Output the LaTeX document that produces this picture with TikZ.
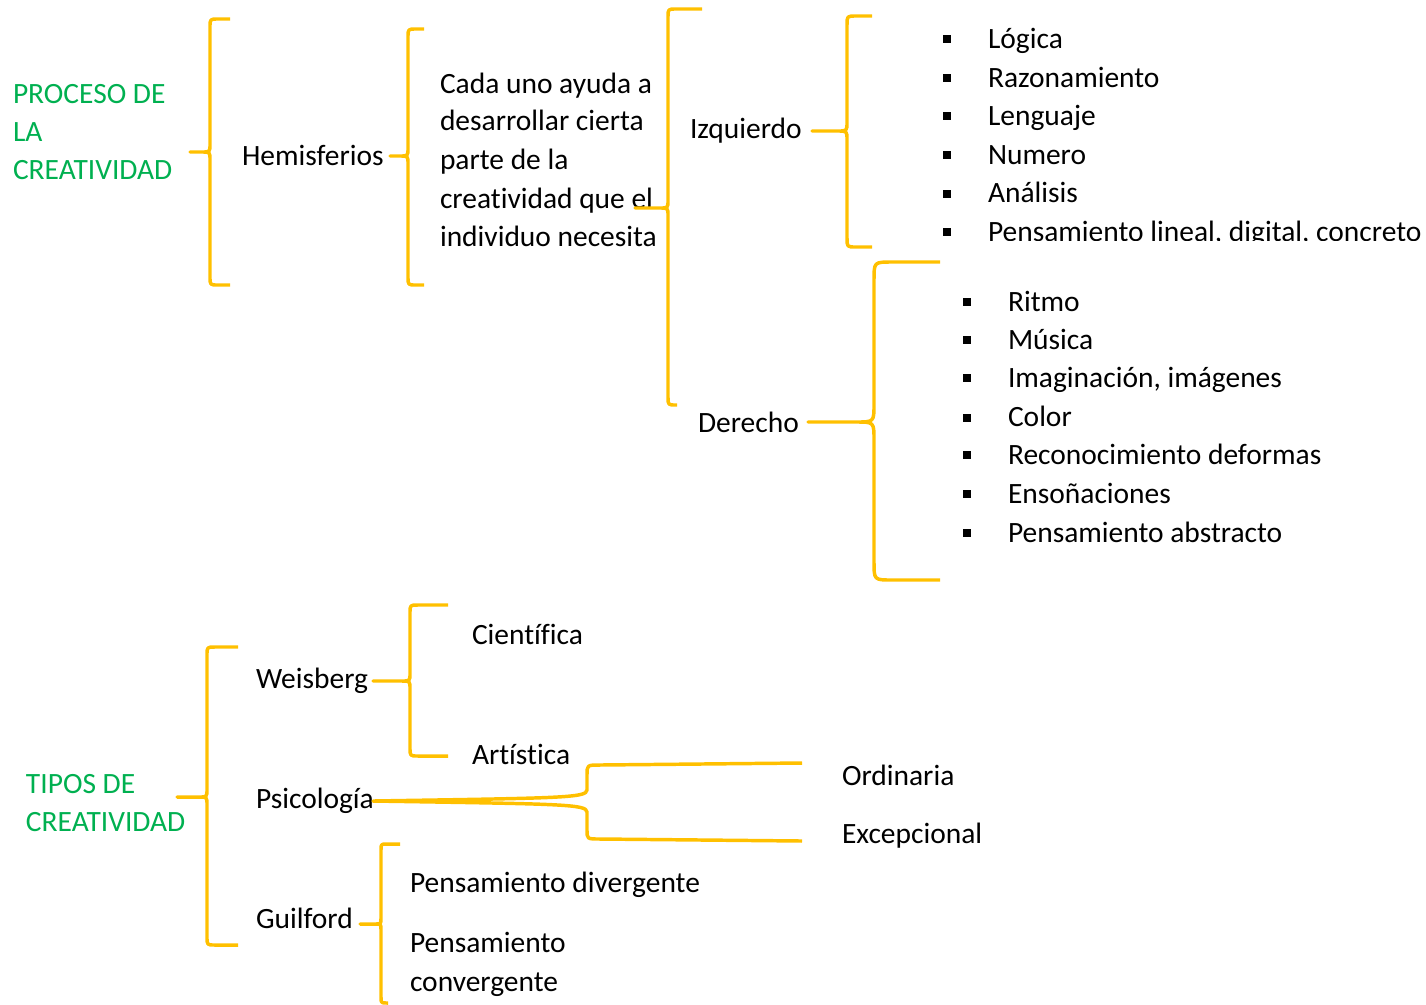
\documentclass[tikz,border=0pt]{standalone}
\usepackage{fontspec}
\setmainfont{Carlito}[Ligatures={NoCommon}]
\definecolor{gold}{HTML}{FFC000}
\definecolor{grn}{HTML}{00B050}
\tikzset{
  txt/.style={anchor=base west, inner sep=0pt, outer sep=0pt, font=\fontsize{22.1pt}{28.9pt}\selectfont},
  gtxt/.style={txt, text=grn},
  bul/.style={rectangle, fill=black, inner sep=0pt, minimum size=5.8pt},
  brace/.style={draw=gold, line width=2.6pt, line join=round}
}
% #1 xv, #2 ytop, #3 ybot, #4 xtip, #5 ytip, #6 xend top, #7 xend bottom, #8 r
\newcommand{\gbrace}[8]{%
  \draw[brace] (#6,#2) -- ({#1+#8},#2) .. controls (#1,#2) .. (#1,{#2+#8})
    -- (#1,{#5-#8}) .. controls (#1,#5) .. ({#1-#8},#5) -- (#4,#5)
    -- ({#1-#8},#5) .. controls (#1,#5) .. (#1,{#5+#8})
    -- (#1,{#3-#8}) .. controls (#1,#3) .. ({#1+#8},#3) -- (#7,#3);
}
\begin{document}
\begin{tikzpicture}[x=0.75pt,y=-0.75pt]
\useasboundingbox (0,0) rectangle (1426,1004);

% ---------- upper part ----------
\node[gtxt] (p1) at (13,103.3) {PROCESO DE};
\node[gtxt] (p2) at (13,141) {LA};
\node[gtxt] (p3) at (13,179.3) {CREATIVIDAD};

\node[txt] (hem) at (242,165) {Hemisferios};

\node[txt] (c1) at (440,93.3) {Cada uno ayuda a};
\node[txt] (c2) at (440,130.7) {desarrollar cierta};
\node[txt] (c3) at (440,169) {parte de la};
\node[txt] (c4) at (440,208.3) {creatividad que el};
\node[txt] (c5) at (440,246.7) {individuo necesita};

\node[txt] (izq) at (690,138) {Izquierdo};
\node[txt] (der) at (698,432.7) {Derecho};

% left hemisphere list
\node[bul] (bi1) at (947,39.3) {};
\node[bul] (bi2) at (947,78.3) {};
\node[bul] (bi3) at (947,116) {};
\node[bul] (bi4) at (947,155) {};
\node[bul] (bi5) at (947,193.7) {};
\node[bul] (bi6) at (947,231.7) {};
\node[txt] (i1) at (988,48.3) {Lógica};
\node[txt] (i2) at (988,87.3) {Razonamiento};
\node[txt] (i3) at (988,125) {Lenguaje};
\node[txt] (i4) at (988,164) {Numero};
\node[txt] (i5) at (988,202.7) {Análisis};
\begin{scope}
  \clip (900,0) rectangle (1426,240.5);
  \node[txt] (i6) at (988,241.5) {Pensamiento lineal, digital, concreto};
\end{scope}

% right hemisphere list
\node[bul] (bd1) at (967,302) {};
\node[bul] (bd2) at (967,340) {};
\node[bul] (bd3) at (967,378.3) {};
\node[bul] (bd4) at (967,417.7) {};
\node[bul] (bd5) at (967,455.3) {};
\node[bul] (bd6) at (967,494.3) {};
\node[bul] (bd7) at (967,533.3) {};
\node[txt] (d1) at (1008,311) {Ritmo};
\node[txt] (d2) at (1008,349) {Música};
\node[txt] (d3) at (1008,387.3) {Imaginación, imágenes};
\node[txt] (d4) at (1008,426.7) {Color};
\node[txt] (d5) at (1008,464.3) {Reconocimiento deformas};
\node[txt] (d6) at (1008,503.3) {Ensoñaciones};
\node[txt] (d7) at (1008,542.3) {Pensamiento abstracto};

% braces upper
\gbrace{210}{19}{285}{190}{152}{230}{230}{8}
\gbrace{408}{29}{285}{390}{156}{424}{424}{8}
\gbrace{668}{9}{405}{635}{208}{702}{677}{8}
\gbrace{847}{16}{247}{812}{131}{872}{872}{9}
\gbrace{874}{262}{580}{808}{422}{940}{940}{18}

% ---------- lower part ----------
\node[gtxt] (t1) at (26,793.3) {TIPOS DE};
\node[gtxt] (t2) at (26,831) {CREATIVIDAD};

\node[txt] (weis) at (256,688.3) {Weisberg};
\node[txt] (psic) at (256,808.3) {Psicología};
\node[txt] (guil) at (256,928.3) {Guilford};

\node[txt] (cient) at (472,644) {Científica};
\node[txt] (art) at (472,764) {Artística};

\node[txt] (ord) at (842,785) {Ordinaria};
\node[txt] (exc) at (842,843.3) {Excepcional};

\node[txt] (pd) at (410,892.7) {Pensamiento divergente};
\node[txt] (pc1) at (410,952.3) {Pensamiento};
\node[txt] (pc2) at (410,991.7) {convergente};

\gbrace{207}{647}{945}{177}{797}{238}{238}{8}
\gbrace{410}{605}{756}{373}{681}{448}{448}{8}
\gbrace{381}{844}{1003}{360}{924}{400}{388}{6}

% Psicologia fork
\coordinate (ptip) at (373,801);
\coordinate (pup) at (802,763);
\coordinate (pdn) at (802,841);
\draw[brace] (pup) -- (600,765) .. controls (587,765) .. (587,775) -- (587,790)
  .. controls (587,798) and (560,798) .. (ptip)
  .. controls (560,804) and (587,804) .. (587,812) -- (587,830)
  .. controls (587,839) .. (600,839) -- (pdn);
\end{tikzpicture}
\end{document}
